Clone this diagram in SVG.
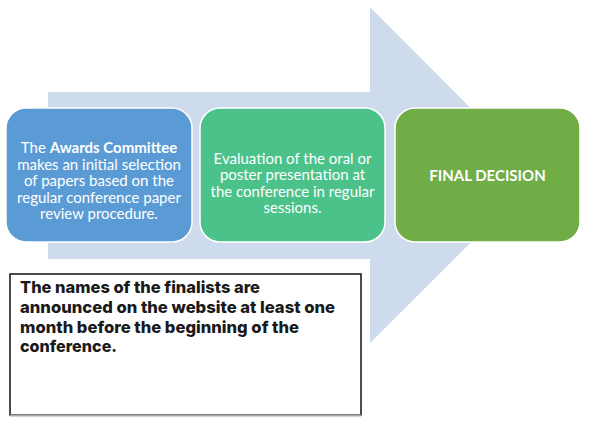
<svg xmlns="http://www.w3.org/2000/svg" width="596" height="425" viewBox="0 0 596 425">
<style>
.box{stroke:#ffffff;stroke-width:1.5}
.t{font-family:Lato,"Open Sans","Liberation Sans",sans-serif;font-size:15px;fill:#ffffff;text-anchor:middle}
.n{font-family:Inter,"Liberation Sans",sans-serif;font-weight:800;font-size:16.5px;fill:#1a1a1a}
</style>
<rect width="596" height="425" fill="#ffffff"/>
<g id="arrow">
<polygon points="48,92 370,92 370,7 538,175.5 370,343 370,259 48,259" fill="#cddbed"/>
</g>
<g id="node1">
<rect class="box" x="6" y="108" width="186" height="134" rx="20" fill="#5b9bd5"/>
<text class="t" x="99" y="153">The <tspan font-weight="700">Awards Committee</tspan></text>
<text class="t" x="99" y="169.5">makes an initial selection</text>
<text class="t" x="99" y="186">of papers based on the</text>
<text class="t" x="99" y="202.5">regular conference paper</text>
<text class="t" x="99" y="219">review procedure.</text>
</g>
<g id="node2">
<rect class="box" x="200" y="108" width="185" height="134" rx="20" fill="#4cc28b"/>
<text class="t" x="292.5" y="163.5">Evaluation of the oral or</text>
<text class="t" x="292.5" y="180">poster presentation at</text>
<text class="t" x="292.5" y="196.5">the conference in regular</text>
<text class="t" x="292.5" y="213">sessions.</text>
</g>
<g id="node3">
<rect class="box" x="395" y="108" width="185" height="134" rx="20" fill="#70ad47"/>
<text class="t" x="487.5" y="181" font-weight="700">FINAL DECISION</text>
</g>
<g id="note">
<rect x="10" y="274" width="351" height="141" fill="#ffffff" stroke="#111111" stroke-width="1.5"/>
<line x1="10" y1="415.5" x2="361" y2="415.5" stroke="#aaaaaa" stroke-width="2"/>
<text class="n" x="20" y="293" textLength="240" lengthAdjust="spacingAndGlyphs">The names of the finalists are</text>
<text class="n" x="20" y="313" textLength="315" lengthAdjust="spacingAndGlyphs">announced on the website at least one</text>
<text class="n" x="20" y="332.5" textLength="279" lengthAdjust="spacingAndGlyphs">month before the beginning of the</text>
<text class="n" x="20" y="352" textLength="97" lengthAdjust="spacingAndGlyphs">conference.</text>
</g>
<g id="connectors"></g>
</svg>
